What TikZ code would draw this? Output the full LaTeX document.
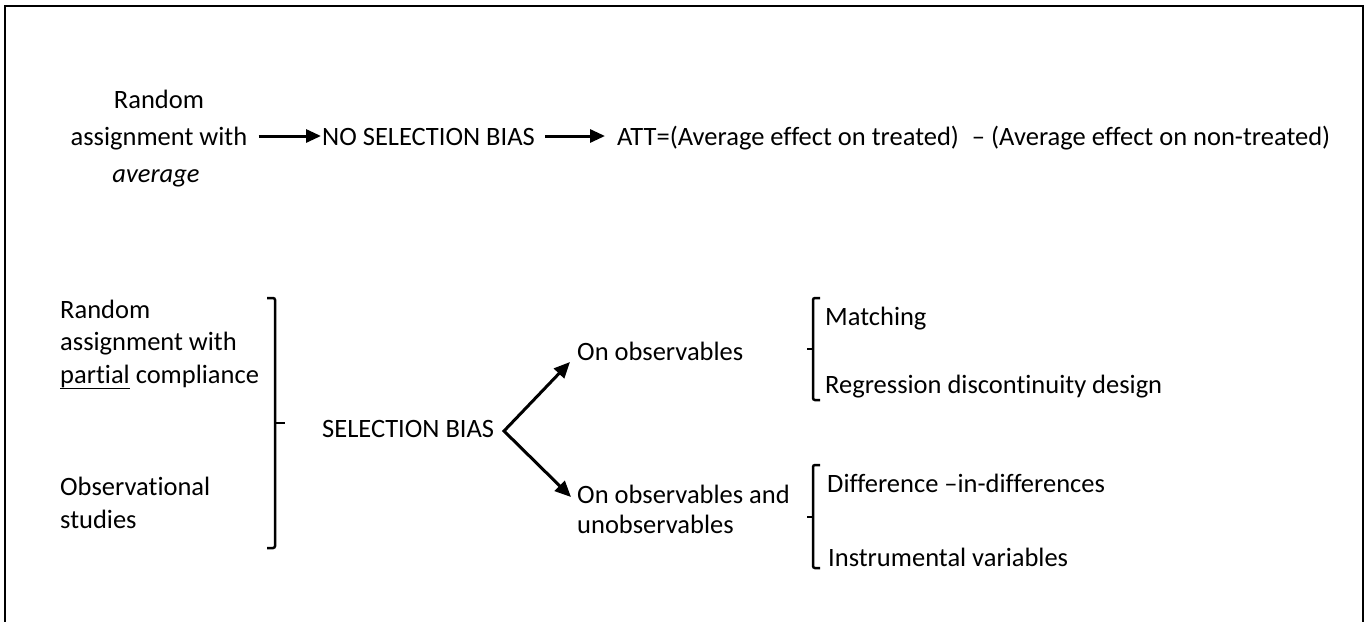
\documentclass[tikz,border=0pt]{standalone}
\usepackage{fontspec}
\setmainfont{Carlito}[Ligatures=NoCommon]
\usetikzlibrary{arrows.meta}
\begin{document}
\begin{tikzpicture}[x=1pt,y=-1pt,
  txt/.style={inner sep=0pt,anchor=base west,font=\fontsize{26.5}{31}\selectfont},
  ctxt/.style={txt,anchor=base},
  arr/.style={line width=3pt,-{Triangle[length=15pt,width=13pt]}},
  darr/.style={line width=3pt,line join=miter,{Triangle[length=16pt,width=14pt]}-{Triangle[length=16pt,width=14pt]}},
  brk/.style={line width=2.5pt,rounded corners=2pt},
  frame/.style={line width=2pt}]
\useasboundingbox (0,0) rectangle (1365,621);
\draw[frame] (5,623) -- (5,6) -- (1363,6) -- (1363,623);
% top row
\node[ctxt] (t1) at (159,108) {Random};
\node[ctxt] (t2) at (159,145) {assignment with};
\node[ctxt] (t3) at (156,182) {\itshape average};
\node[txt] (nsb) at (322,145) {NO SELECTION BIAS};
\node[txt] (att) at (617,145) {ATT=(Average effect on treated)\hspace{13pt}– (Average effect on non-treated)};
\draw[arr] ([shift={(11,-9)}]t2.base east) -- ([shift={(-1,-9)}]nsb.base west);
\draw[arr] ([shift={(10,-9)}]nsb.base east) -- ([shift={(-12,-9)}]att.base west);
% bottom left
\node[txt] (b1) at (60,318) {Random};
\node[txt] (b2) at (60,350) {assignment with};
\node[txt] (b3) at (60,383) {\underline{partial} compliance};
\node[txt] (b4) at (60,495) {Observational};
\node[txt] (b5) at (60,528) {studies};
\draw[brk] (267,298) -- (275,298) -- (275,548) -- (267,548);
\draw[brk] (275,423) -- (285,423);
% selection bias
\node[txt] (sb) at (322,437) {SELECTION BIAS};
\node[txt] (oo) at (577,360) {On observables};
\node[txt] (ou1) at (577,503) {On observables and};
\node[txt] (ou2) at (577,533) {unobservables};
\coordinate (v) at (504,431);
\draw[darr] ([shift={(-7,2)}]oo.base west) -- (v) -- ([shift={(-6,-6)}]ou1.base west);
% right brackets
\draw[brk] (820,298) -- (813,298) -- (813,400) -- (820,400);
\draw[brk] (813,349) -- (807,349);
\draw[brk] (820,465) -- (813,465) -- (813,568) -- (820,568);
\draw[brk] (813,517) -- (807,517);
\node[txt] (m) at (825,325) {Matching};
\node[txt] (r) at (825,393) {Regression discontinuity design};
\node[txt] (d) at (827,492) {Difference –in-differences};
\node[txt] (iv) at (828,566) {Instrumental variables};
\end{tikzpicture}
\end{document}
